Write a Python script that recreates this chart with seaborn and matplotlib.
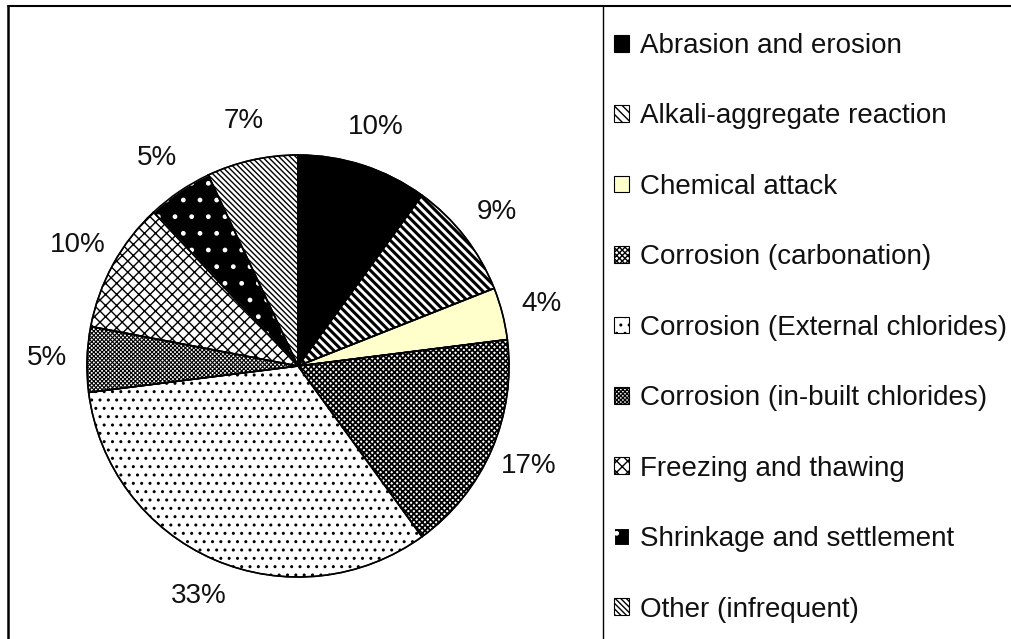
import matplotlib
matplotlib.use("Agg")
import matplotlib.pyplot as plt
import seaborn as sns
from matplotlib.lines import Line2D

# ---- data ----
categories = [
    "Abrasion and erosion",
    "Alkali-aggregate reaction",
    "Chemical attack",
    "Corrosion (carbonation)",
    "Corrosion (External chlorides)",
    "Corrosion (in-built chlorides)",
    "Freezing and thawing",
    "Shrinkage and settlement",
    "Other (infrequent)",
]
values = [10, 9, 4, 17, 33, 5, 10, 5, 7]

# ---- styles ----
face_colors = ["black", "white", "#FFFFCC", "white", "white", "white", "white", "black", "white"]
hatches = ["", "\\\\\\\\", "", "xxxxxx", "..", "xxxxxxxx", "xxx", ".", "\\\\\\\\\\\\"]
hatch_colors = ["black", "black", "black", "black", "black", "black", "black", "white", "black"]
hatch_widths = [1.0, 2.2, 1.0, 1.3, 1.0, 0.8, 1.0, 1.0, 1.0]

sns.set_theme(style="white")
plt.rcParams["font.family"] = ["Liberation Sans", "DejaVu Sans"]

W, H = 1012, 639
fig = plt.figure(figsize=(W / 100, H / 100), dpi=100)
ax = fig.add_axes([0, 0, 1, 1])

center = (298, 273)
radius = 211

wedges, texts, autotexts = ax.pie(
    values,
    colors=face_colors,
    startangle=90,
    counterclock=False,
    center=center,
    radius=radius,
    autopct="%1.0f%%",
    pctdistance=1.19,
    wedgeprops=dict(linewidth=1.0, edgecolor="black"),
    textprops=dict(fontsize=20, color="#111111"),
)
for w, h, hc, hl in zip(wedges, hatches, hatch_colors, hatch_widths):
    w.set_hatch(h)
    w.set_edgecolor(hc)
    if hasattr(w, "set_hatch_linewidth"):
        w.set_hatch_linewidth(hl)

# outline on top
outline, _ = ax.pie(
    values,
    startangle=90,
    counterclock=False,
    center=center,
    radius=radius,
    wedgeprops=dict(fill=False, linewidth=1.2, edgecolor="black"),
)

ax.set_xlim(0, W)
ax.set_ylim(0, H)
ax.set_aspect("equal")
ax.axis("off")

# frame lines
fig.add_artist(Line2D([8 / W, 1], [1 - 6 / H, 1 - 6 / H], transform=fig.transFigure, color="black", lw=1.5))
fig.add_artist(Line2D([8 / W, 8 / W], [0, 1 - 6 / H], transform=fig.transFigure, color="black", lw=1.8))
fig.add_artist(Line2D([603 / W, 603 / W], [0, 1 - 6 / H], transform=fig.transFigure, color="black", lw=1.0))

leg = fig.legend(
    wedges,
    categories,
    loc="upper left",
    bbox_to_anchor=(614 / W, 1 - 33 / H),
    frameon=False,
    fontsize=20,
    handlelength=0.55,
    handleheight=0.55,
    handletextpad=0.4,
    labelspacing=1.6,
    borderpad=0,
    borderaxespad=0,
)
for t in leg.get_texts():
    t.set_color("#111111")
for p in leg.get_patches():
    p.set_linewidth(0.8)

fig.savefig("out.png", dpi=100)
